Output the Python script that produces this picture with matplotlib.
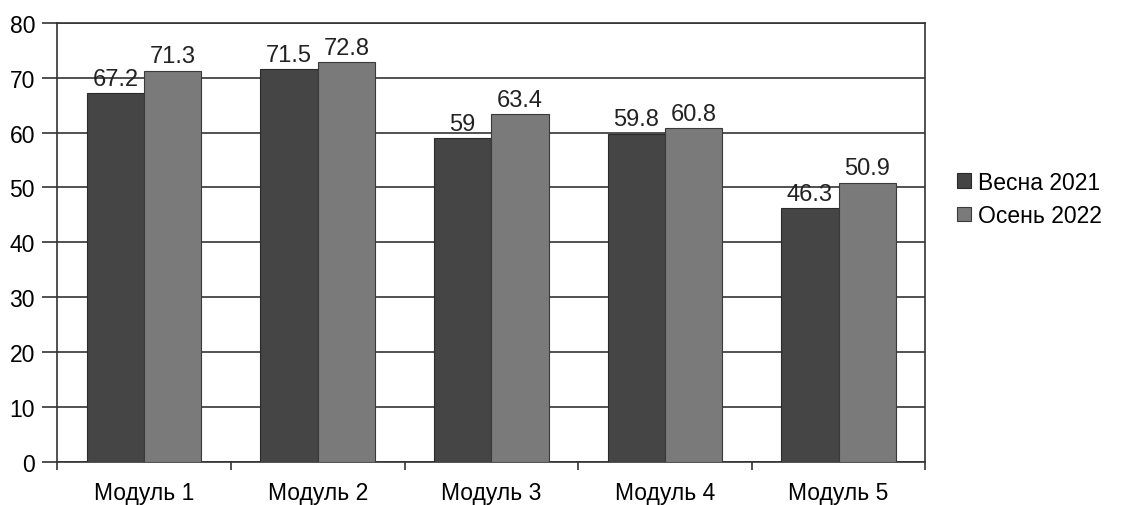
import numpy as np
import matplotlib.pyplot as plt

plt.rcParams['font.family'] = ['Liberation Sans', 'DejaVu Sans']

categories = ['Модуль 1', 'Модуль 2', 'Модуль 3', 'Модуль 4', 'Модуль 5']
spring_2021 = [67.2, 71.5, 59, 59.8, 46.3]
autumn_2022 = [71.3, 72.8, 63.4, 60.8, 50.9]
series_names = ['Весна 2021', 'Осень 2022']

fig = plt.figure(figsize=(11.23, 5.06), dpi=100)
ax = fig.add_axes([0.051, 0.085, 0.773, 0.868])

x = np.arange(len(categories))
w = 0.33
b1 = ax.bar(x - w / 2, spring_2021, w, color='#454545', edgecolor='#2a2a2a', linewidth=0.8, label=series_names[0], zorder=3)
b2 = ax.bar(x + w / 2, autumn_2022, w, color='#7a7a7a', edgecolor='#3a3a3a', linewidth=0.8, label=series_names[1], zorder=3)

for bars, vals in ((b1, spring_2021), (b2, autumn_2022)):
    for r, v in zip(bars, vals):
        ax.text(r.get_x() + r.get_width() / 2, v + 0.6, f'{v:g}', ha='center', va='bottom',
                fontsize=17, color='#222222', zorder=4)

ax.set_xlim(-0.5, len(categories) - 0.5)
ax.set_ylim(0, 80)
ax.set_yticks(range(0, 81, 10))
ax.yaxis.grid(True, color='#333333', linewidth=1.2, zorder=0)
ax.set_axisbelow(True)

ax.set_xticks(x)
ax.set_xticklabels(categories, fontsize=16.5)
ax.set_xticks(np.arange(-0.5, len(categories)), minor=True)
ax.tick_params(axis='x', which='major', length=0, pad=14)
ax.tick_params(axis='x', which='minor', length=6, width=1.2, color='#333333')
ax.tick_params(axis='y', length=11, width=1.2, color='#333333', labelsize=16.5, pad=5)

for s in ax.spines.values():
    s.set_color('#333333')
    s.set_linewidth(1.2)

fig.legend(handles=[b1, b2], labels=series_names, loc='center left',
           bbox_to_anchor=(0.834, 0.605), frameon=False, fontsize=16.5,
           handlelength=0.6, handleheight=0.6, handletextpad=0.3, labelspacing=0.45)

plt.savefig('out.png', dpi=100)
